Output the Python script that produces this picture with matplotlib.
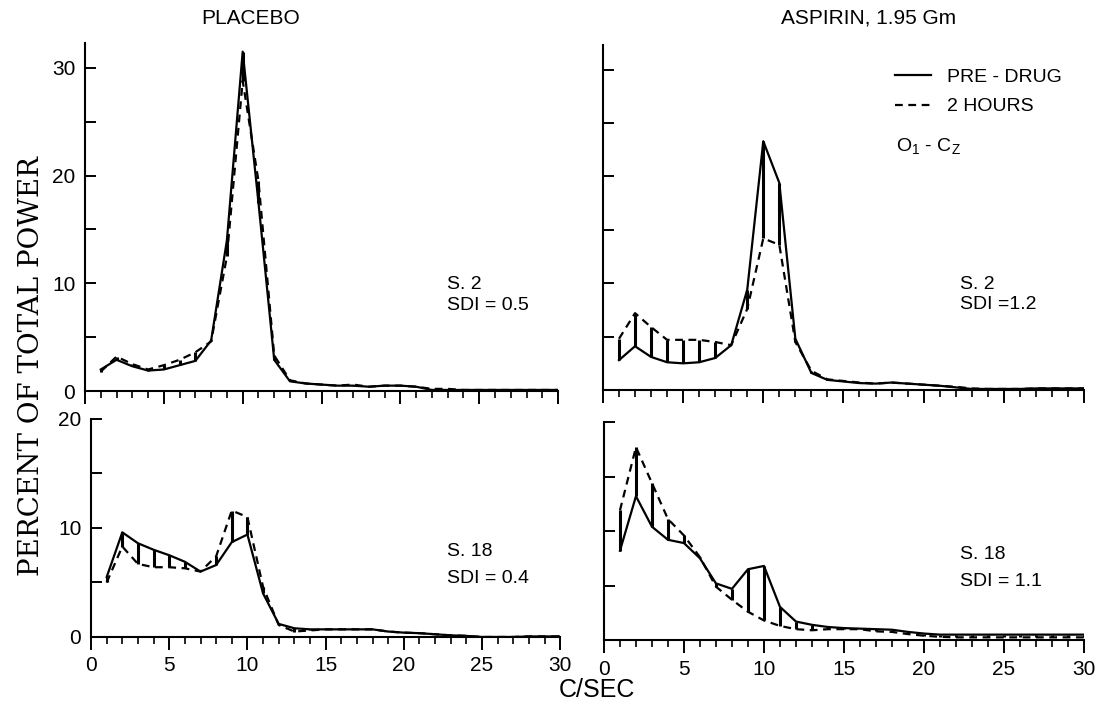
import numpy as np
import matplotlib.pyplot as plt
from matplotlib.ticker import MultipleLocator, FuncFormatter

plt.rcParams['font.family'] = ['Liberation Sans', 'DejaVu Sans']

# EEG power spectra, percent of total power per 1 c/sec bin
freq = np.arange(1, 31)

placebo_s2_pre = [2.0, 2.9, 2.3, 1.9, 2.0, 2.4, 2.8, 4.7, 14.0, 31.5,
                  17.5, 2.9, 0.9, 0.7, 0.6, 0.5, 0.5, 0.4, 0.5, 0.5,
                  0.4, 0.1, 0.1, 0.1, 0.1, 0.1, 0.1, 0.1, 0.1, 0.1]
placebo_s2_post = [1.8, 3.2, 2.5, 2.0, 2.4, 2.9, 3.6, 4.6, 12.5, 28.8,
                   19.5, 3.3, 1.0, 0.7, 0.6, 0.5, 0.6, 0.4, 0.5, 0.5,
                   0.4, 0.2, 0.2, 0.1, 0.1, 0.1, 0.1, 0.1, 0.1, 0.1]

aspirin_s2_pre = [2.8, 4.1, 3.1, 2.6, 2.5, 2.6, 3.0, 4.2, 9.4, 23.3,
                  19.4, 4.8, 1.6, 0.95, 0.8, 0.65, 0.6, 0.7, 0.6, 0.5,
                  0.4, 0.25, 0.1, 0.1, 0.1, 0.1, 0.15, 0.15, 0.15, 0.15]
aspirin_s2_post = [4.8, 7.2, 5.9, 4.7, 4.7, 4.7, 4.5, 4.2, 7.6, 14.2,
                   13.6, 4.5, 1.8, 1.0, 0.85, 0.7, 0.6, 0.7, 0.6, 0.5,
                   0.4, 0.3, 0.15, 0.1, 0.1, 0.1, 0.15, 0.15, 0.15, 0.15]

placebo_s18_pre = [5.5, 9.6, 8.6, 8.0, 7.5, 6.9, 6.0, 6.6, 8.7, 9.4,
                   4.0, 1.2, 0.8, 0.7, 0.7, 0.7, 0.7, 0.7, 0.5, 0.4,
                   0.35, 0.25, 0.15, 0.1, 0.0, 0.0, 0.0, 0.05, 0.05, 0.05]
placebo_s18_post = [5.0, 8.3, 6.7, 6.4, 6.4, 6.3, 6.0, 7.4, 11.6, 11.0,
                    4.6, 1.1, 0.5, 0.6, 0.7, 0.7, 0.7, 0.7, 0.5, 0.4,
                    0.35, 0.25, 0.15, 0.1, 0.0, 0.0, 0.0, 0.05, 0.05, 0.05]

aspirin_s18_pre = [8.2, 13.2, 10.4, 9.2, 8.9, 7.5, 5.2, 4.7, 6.5, 6.8,
                   3.05, 1.7, 1.4, 1.2, 1.1, 1.05, 1.0, 0.95, 0.75, 0.6,
                   0.5, 0.5, 0.5, 0.5, 0.5, 0.5, 0.5, 0.5, 0.5, 0.5]
aspirin_s18_post = [11.9, 17.7, 14.4, 11.1, 9.6, 7.6, 4.9, 3.7, 2.6, 1.8,
                    1.3, 1.0, 0.9, 1.0, 1.0, 1.0, 0.8, 0.75, 0.55, 0.4,
                    0.3, 0.25, 0.25, 0.25, 0.25, 0.25, 0.25, 0.25, 0.25, 0.25]

panels = [
    # (axes rect, pre, post, ymax, subject, sdi, text x, text y's, labels y, labels x)
    ([0.0761, 0.4569, 0.4235, 0.4833], placebo_s2_pre, placebo_s2_post, 32.3,
     "S. 2", "SDI = 0.5", 0.765, (0.305, 0.247), True, False),
    ([0.5398, 0.4583, 0.4306, 0.4790], aspirin_s2_pre, aspirin_s2_post, 32.3,
     "S. 2", "SDI =1.2", 0.742, (0.305, 0.247), False, False),
    ([0.0815, 0.1153, 0.4200, 0.3028], placebo_s18_pre, placebo_s18_post, 20,
     "S. 18", "SDI = 0.4", 0.759, (0.394, 0.27), True, True),
    ([0.5407, 0.1110, 0.4297, 0.3028], aspirin_s18_pre, aspirin_s18_post, 20,
     "S. 18", "SDI = 1.1", 0.742, (0.394, 0.27), False, True),
]

fig = plt.figure(figsize=(11.17, 7.2), dpi=100)

axes = []
for rect, pre, post, ymax, subj, sdi, tx, ty, ylab, xlab in panels:
    ax = fig.add_axes(rect)
    axes.append(ax)
    pre = np.array(pre)
    post = np.array(post)

    # vertical hatching between the two spectra
    ax.vlines(freq, np.minimum(pre, post), np.maximum(pre, post),
              color="black", lw=2.2, zorder=2)
    ax.plot(freq, pre, color="black", lw=1.6, zorder=3, label="PRE - DRUG")
    ax.plot(freq, post, color="black", lw=1.6, ls=(0, (3.5, 2.5)), zorder=3,
            label="2 HOURS")

    ax.set_xlim(0, 30)
    ax.set_ylim(0, ymax)
    for s in ["top", "right"]:
        ax.spines[s].set_visible(False)
    ax.spines["left"].set_linewidth(1.5)
    ax.spines["bottom"].set_linewidth(1.5)

    ax.xaxis.set_major_locator(MultipleLocator(5))
    ax.xaxis.set_minor_locator(MultipleLocator(1))
    ax.yaxis.set_major_locator(MultipleLocator(5))
    ax.tick_params(axis="x", which="major", direction="out", length=9, width=1.4,
                   labelsize=15, pad=5, labelbottom=xlab)
    ax.tick_params(axis="x", which="minor", direction="out", length=5, width=1.2)
    ax.tick_params(axis="y", which="major", direction="in", length=8, width=1.4,
                   labelsize=15, pad=7, labelleft=ylab)
    ax.yaxis.set_major_formatter(FuncFormatter(
        lambda v, p: f"{v:.0f}" if v % 10 == 0 else ""))

    ax.text(tx, ty[0], subj, transform=ax.transAxes,
            fontsize=14, ha="left", va="center")
    ax.text(tx, ty[1], sdi, transform=ax.transAxes,
            fontsize=14, ha="left", va="center")

fig.text(0.224, 0.975, "PLACEBO", fontsize=15, ha="center", va="center")
fig.text(0.778, 0.975, "ASPIRIN, 1.95 Gm", fontsize=15, ha="center", va="center")
fig.text(0.534, 0.042, "C/SEC", fontsize=18, ha="center", va="center")
fig.text(0.028, 0.492, "PERCENT OF TOTAL POWER", fontsize=20, rotation=90,
         ha="center", va="center", family=["DejaVu Serif"])

ax_tr = axes[1]
ax_tr.legend(loc="upper left", bbox_to_anchor=(0.59, 0.955), frameon=False,
             fontsize=14, handlelength=1.9, handletextpad=0.8, labelspacing=0.6,
             borderaxespad=0)
ax_tr.text(0.61, 0.705, r"O$_\mathregular{1}$ - C$_\mathregular{Z}$",
           transform=ax_tr.transAxes, fontsize=14, ha="left", va="center")

fig.savefig("out.png", dpi=100)
